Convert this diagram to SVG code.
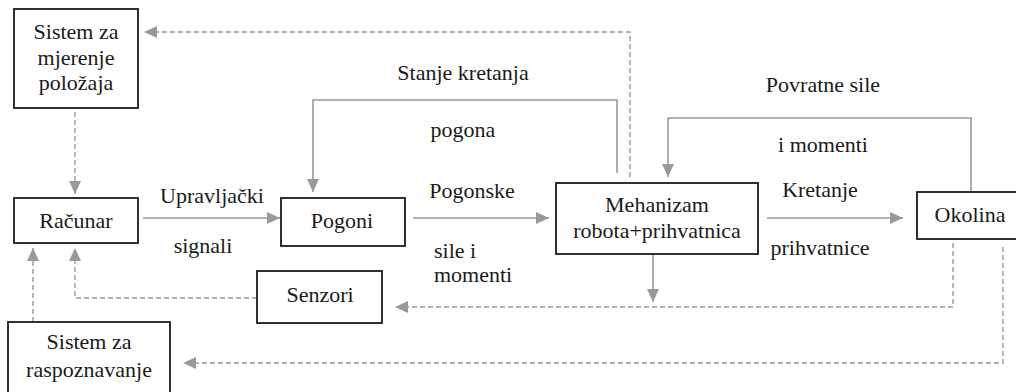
<svg xmlns="http://www.w3.org/2000/svg" width="1016" height="392" viewBox="0 0 1016 392">
<defs>
<marker id="ah" markerWidth="13" markerHeight="12" refX="13" refY="6" orient="auto" markerUnits="userSpaceOnUse">
<path d="M0,0 L13,6 L0,12 Z" fill="#999"/>
</marker>
<style>
.box{fill:#fff;stroke:#1a1a1a;stroke-width:1.8}
text{font-family:'Liberation Serif','Times New Roman','DejaVu Serif',serif;font-size:22px;fill:#1a1a1a}
.t{text-anchor:middle}
.c{fill:none;stroke:#999;stroke-width:1.6}
.d{fill:none;stroke:#999;stroke-width:1.4;stroke-dasharray:5,3}
</style>
</defs>
<rect width="1016" height="392" fill="#fff"/>
<g id="connectors">
<path class="d" d="M630,177 V32 H144" marker-end="url(#ah)"/>
<path class="d" d="M75,112 V194" marker-end="url(#ah)"/>
<path class="c" d="M143,218 H280" marker-end="url(#ah)"/>
<path class="c" d="M617,173 V100 H313 V192" marker-end="url(#ah)"/>
<path class="c" d="M413,218 H549" marker-end="url(#ah)"/>
<path class="d" d="M257,298 H75 V248" marker-end="url(#ah)"/>
<path class="d" d="M33,322 V248" marker-end="url(#ah)"/>
<path class="d" d="M1003,247 V363 H183" marker-end="url(#ah)"/>
<path class="d" d="M953,243 V307 H395" marker-end="url(#ah)"/>
<path class="c" d="M653,254 V302" marker-end="url(#ah)"/>
<path class="c" d="M767,218 H903" marker-end="url(#ah)"/>
<path class="c" d="M971,192 V118 H668 V177" marker-end="url(#ah)"/>
</g>
<g id="labels">
<text class="t" x="212" y="203" font-family="Liberation Serif, serif">Upravljački</text>
<text class="t" x="203" y="253" font-family="Liberation Serif, serif">signali</text>
<text class="t" x="463" y="80" font-family="Liberation Serif, serif">Stanje kretanja</text>
<text class="t" x="463" y="137" font-family="Liberation Serif, serif">pogona</text>
<text class="t" x="472" y="198" font-family="Liberation Serif, serif">Pogonske</text>
<text x="434" y="258" font-family="Liberation Serif, serif">sile i</text>
<text x="434" y="282" font-family="Liberation Serif, serif">momenti</text>
<text class="t" x="823" y="92" font-family="Liberation Serif, serif">Povratne sile</text>
<text class="t" x="823" y="152" font-family="Liberation Serif, serif">i momenti</text>
<text class="t" x="820" y="197" font-family="Liberation Serif, serif">Kretanje</text>
<text class="t" x="820" y="255" font-family="Liberation Serif, serif">prihvatnice</text>
</g>
<g id="mjerenje">
<rect class="box" x="14" y="9" width="124" height="99"/>
<text class="t" x="76" y="39" font-family="Liberation Serif, serif">Sistem za</text>
<text class="t" x="76" y="65" font-family="Liberation Serif, serif">mjerenje</text>
<text class="t" x="76" y="90" font-family="Liberation Serif, serif">položaja</text>
</g>
<g id="racunar">
<rect class="box" x="14" y="198" width="124" height="45"/>
<text class="t" x="76" y="228" font-family="Liberation Serif, serif">Računar</text>
</g>
<g id="pogoni">
<rect class="box" x="281" y="198" width="124" height="48"/>
<text class="t" x="342" y="228" font-family="Liberation Serif, serif">Pogoni</text>
</g>
<g id="mehanizam">
<rect class="box" x="556" y="183" width="202" height="71"/>
<text class="t" x="657" y="212" font-family="Liberation Serif, serif">Mehanizam</text>
<text class="t" x="657" y="238" font-family="Liberation Serif, serif">robota+prihvatnica</text>
</g>
<g id="okolina">
<rect class="box" x="917" y="192" width="110" height="47"/>
<text class="t" x="970" y="222" font-family="Liberation Serif, serif">Okolina</text>
</g>
<g id="senzori">
<rect class="box" x="257" y="271" width="125" height="52"/>
<text class="t" x="320" y="302" font-family="Liberation Serif, serif">Senzori</text>
</g>
<g id="raspoznavanje">
<rect class="box" x="8" y="322" width="162" height="80"/>
<text class="t" x="89" y="349" font-family="Liberation Serif, serif">Sistem za</text>
<text class="t" x="89" y="377" font-family="Liberation Serif, serif">raspoznavanje</text>
</g>
</svg>
